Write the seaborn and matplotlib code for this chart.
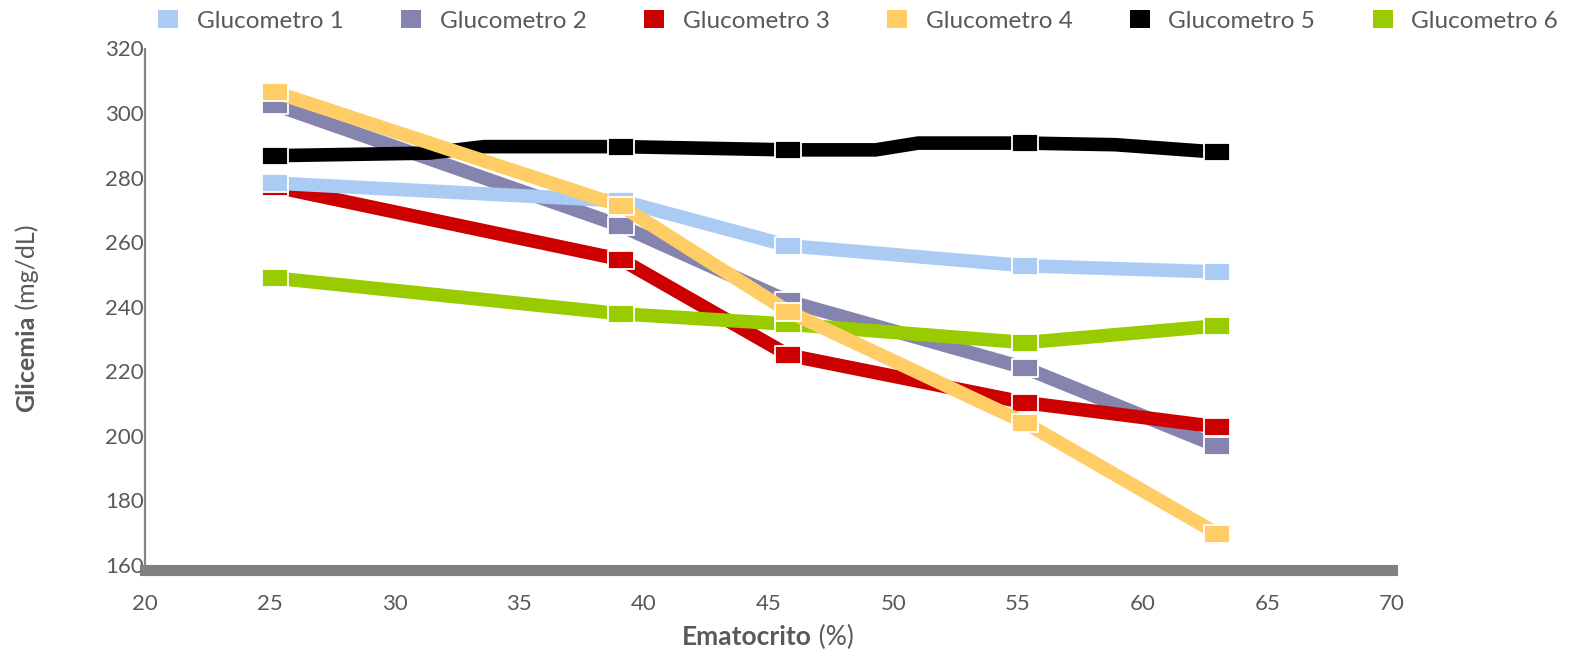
import matplotlib
matplotlib.use("Agg")
import matplotlib.pyplot as plt
from matplotlib.lines import Line2D
import seaborn as sns

# Hematocrit levels (%) at which each glucometer was tested
ematocrito = [25.2, 39.1, 45.8, 55.3, 63.0]
gluco1 = [278.3, 272.8, 258.9, 252.7, 250.8]
gluco2 = [302.6, 265.0, 241.7, 221.0, 196.8]
gluco3 = [277.2, 254.6, 225.0, 210.3, 202.8]
gluco4 = [306.5, 271.2, 238.5, 204.0, 169.7]
gluco6 = [248.9, 237.8, 234.6, 228.9, 234.1]
# Glucometro 5 has extra unmarked readings between the marked ones
ematocrito5 = [25.2, 31.4, 33.6, 39.1, 45.8, 49.3, 51.0, 55.3, 58.9, 63.0]
gluco5 = [286.8, 287.6, 289.6, 289.6, 288.6, 288.6, 290.7, 290.7, 290.2, 287.9]
marked5 = [0, 3, 4, 7, 9]

series_names = ["Glucometro 1", "Glucometro 2", "Glucometro 3",
                "Glucometro 4", "Glucometro 5", "Glucometro 6"]
colors = ["#A9CBF4", "#8584AE", "#CC0000", "#FFCC66", "#000000", "#99CC00"]
x_ticks = list(range(20, 71, 5))
y_ticks = list(range(160, 321, 20))

TEXT = "#595959"

sns.set_theme(style="white")
plt.rcParams["font.family"] = ["Lato", "DejaVu Sans"]

W, H = 1574, 654
fig = plt.figure(figsize=(W / 100, H / 100), dpi=100)
ax = fig.add_axes([145 / W, 89 / H, 1247 / W, 516.5 / H])

series = {
    0: (ematocrito, gluco1, None),
    1: (ematocrito, gluco2, None),
    2: (ematocrito, gluco3, None),
    3: (ematocrito, gluco4, None),
    4: (ematocrito5, gluco5, marked5),
    5: (ematocrito, gluco6, None),
}

# wide rectangular markers
rect = [(-1.4, -1), (1.4, -1), (1.4, 1), (-1.4, 1), (-1.4, -1)]

draw_order = [1, 2, 0, 5, 4, 3]
for z, i in enumerate(draw_order):
    xs, ys, every = series[i]
    sns.lineplot(x=xs, y=ys, ax=ax, color=colors[i], linewidth=9.8,
                 marker=rect, markersize=18.5, markeredgecolor="white",
                 markeredgewidth=1.3, markevery=every, sort=False,
                 estimator=None, solid_joinstyle="miter",
                 solid_capstyle="butt", zorder=3 + z)

ax.set_xlim(20, 70)
ax.set_ylim(160, 320)
ax.set_xticks(x_ticks)
ax.set_yticks(y_ticks)
ax.tick_params(axis="both", length=0, labelsize=16, labelcolor=TEXT)
ax.tick_params(axis="x", pad=17)
ax.tick_params(axis="y", pad=1)
ax.set_xlabel("")
ax.set_ylabel("")
ax.grid(False)

for side in ("top", "right"):
    ax.spines[side].set_visible(False)
ax.spines["left"].set_color("#868686")
ax.spines["left"].set_linewidth(1.6)
ax.spines["bottom"].set_color("#808080")
ax.spines["bottom"].set_linewidth(8.0)
ax.spines["bottom"].set_position(("outward", 3.8))
ax.spines["bottom"].set_zorder(20)

# legend across the top
handles = [Line2D([], [], linestyle="none",
                  marker=[(-1.2, -1), (1.2, -1), (1.2, 1), (-1.2, 1), (-1.2, -1)],
                  markersize=15, color=c, markeredgewidth=0) for c in colors]
fig.legend(handles, series_names, loc="center", bbox_to_anchor=(858 / W, 1 - 21 / H),
           ncol=6, frameon=False, fontsize=17.5, labelcolor=TEXT,
           handlelength=0.85, handletextpad=0.75, columnspacing=2.35)

# axis titles: bold name followed by regular unit
fig.canvas.draw()
renderer = fig.canvas.get_renderer()

xb = fig.text(0, 1 - 637 / H, "Ematocrito", fontsize=19, fontweight="bold",
              color=TEXT, ha="left", va="center")
xr = fig.text(0, 1 - 637 / H, " (%)", fontsize=19, color=TEXT, ha="left", va="center")
wb = xb.get_window_extent(renderer).width
wr = xr.get_window_extent(renderer).width
x0 = 768 - (wb + wr) / 2
xb.set_x(x0 / W)
xr.set_x((x0 + wb) / W)

yb = fig.text(27 / W, 0, "Glicemia", fontsize=18, fontweight="bold", color=TEXT,
              rotation=90, rotation_mode="anchor", ha="left", va="center")
yr = fig.text(27 / W, 0, " (mg/dL)", fontsize=18, color=TEXT,
              rotation=90, rotation_mode="anchor", ha="left", va="center")
hb = yb.get_window_extent(renderer).height
hr = yr.get_window_extent(renderer).height
y0 = (H - 318) - (hb + hr) / 2
yb.set_y(y0 / H)
yr.set_y((y0 + hb) / H)

fig.savefig("out.png", dpi=100)
